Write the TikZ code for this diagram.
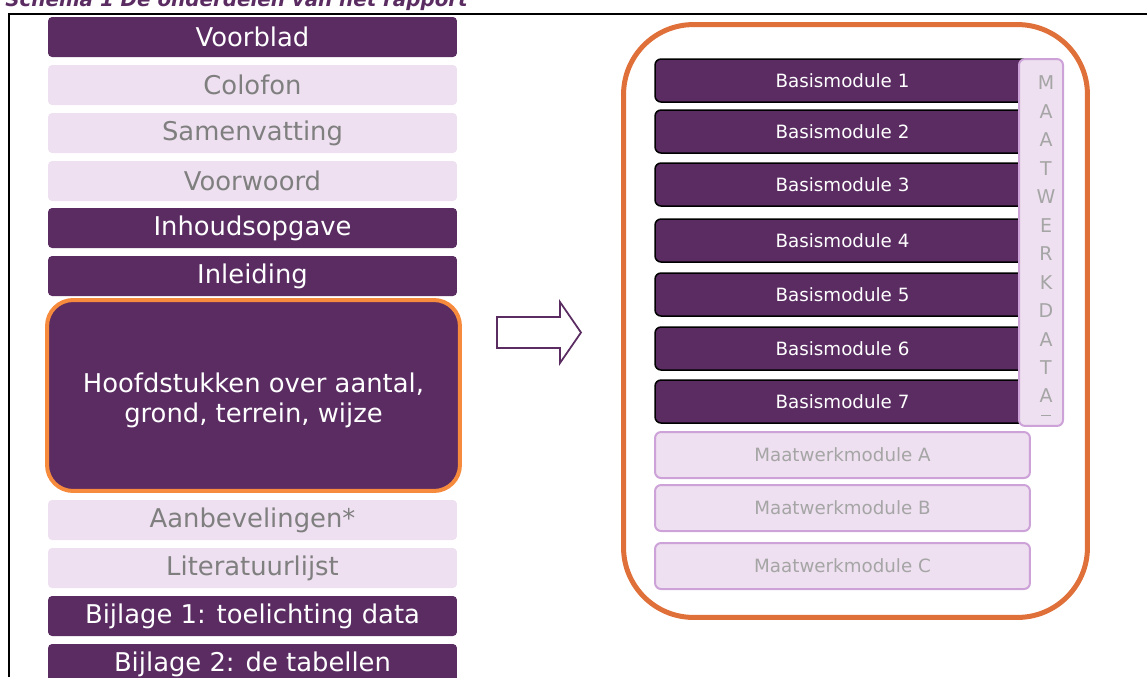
\documentclass[tikz,border=0pt]{standalone}
\usepackage{fontspec}
\setmainfont{DejaVu Sans}
\definecolor{paars}{HTML}{5A2C62}
\definecolor{lila}{HTML}{EEE0F0}
\definecolor{lilarand}{HTML}{CDA2D8}
\definecolor{oranjelicht}{HTML}{F68B3D}
\definecolor{oranje}{HTML}{E0703A}
\definecolor{grijs}{HTML}{7F7F7F}
\definecolor{lichtgrijs}{HTML}{A5A5A5}

\begin{document}
\begin{tikzpicture}[x=0.02cm, y=-0.02cm,
		donker/.style={fill=paars, text=white, rounded corners=0.08cm, minimum width=8.18cm, minimum height=0.8cm, inner sep=0pt, font=\fontsize{14.7}{17}\selectfont},
		licht/.style={donker, fill=lila, text=grijs},
		basis/.style={draw=black, line width=0.03cm, fill=paars, text=white, rounded corners=0.12cm, minimum width=7.5cm, minimum height=0.86cm, inner sep=0pt, font=\fontsize{10.4}{12}\selectfont},
		maatwerk/.style={basis, draw=lilarand, fill=lila, text=lichtgrijs, line width=0.04cm, minimum height=0.92cm}]
			%%%%% START %%%%%
			
			\useasboundingbox (0, 0) rectangle (1147, 677);
			\clip (0, 0) rectangle (1147, 677);
			
			\node[anchor=base west, inner sep=0pt, text=paars, font=\fontsize{11.3}{13}\selectfont\bfseries\itshape] (titel) at (5, 6) {Schema 1 De onderdelen van het rapport};
			\draw[line width=0.04cm] (9, 677) -- (9, 14) -- (1147, 14);
			
			% linker kolom
			\node[donker] (voorblad) at (252.5, 37) {Voorblad};
			\node[licht] (colofon) at (252.5, 85) {Colofon};
			\node[licht] (samenvatting) at (252.5, 133) {Samenvatting};
			\node[licht] (voorwoord) at (252.5, 181) {Voorwoord};
			\node[donker] (inhoud) at (252.5, 228) {Inhoudsopgave};
			\node[donker] (inleiding) at (252.5, 276) {Inleiding};
			\node[donker, draw=oranjelicht, line width=0.08cm, rounded corners=0.52cm, minimum width=8.26cm, minimum height=3.82cm] (hoofdstukken) at (253.5, 395.5) {};
			\node[text=white, align=center, inner sep=0pt, font=\fontsize{14.7}{17}\selectfont] (hoofdtekst) at (253.5, 400) {Hoofdstukken over aantal,\\grond, terrein, wijze};
			\node[licht] (aanbevelingen) at (252.5, 520) {Aanbevelingen*};
			\node[licht] (literatuur) at (252.5, 568) {Literatuurlijst};
			\node[donker] (bijlage1) at (252.5, 616) {Bijlage 1: toelichting data};
			\node[donker] (bijlage2) at (252.5, 664) {Bijlage 2: de tabellen};
			
			\draw[paars, line width=0.035cm, fill=white] (497, 317) -- (560, 317) -- (560, 302) -- (581, 332.5) -- (560, 363) -- (560, 348) -- (497, 348) -- cycle;
			
			% rechter kolom
			\node[draw=oranje, line width=0.1cm, rounded corners=1.4cm, minimum width=9.28cm, minimum height=11.86cm] (modules) at (855.5, 321) {};
			
			\node[basis] (basis1) at (842.5, 80.5) {Basismodule 1};
			\node[basis] (basis2) at (842.5, 131.5) {Basismodule 2};
			\node[basis] (basis3) at (842.5, 184.5) {Basismodule 3};
			\node[basis] (basis4) at (842.5, 240.5) {Basismodule 4};
			\node[basis] (basis5) at (842.5, 294.5) {Basismodule 5};
			\node[basis] (basis6) at (842.5, 348.5) {Basismodule 6};
			\node[basis] (basis7) at (842.5, 401.5) {Basismodule 7};
			
			\node[maatwerk] (maatA) at (842.5, 455) {Maatwerkmodule A};
			\node[maatwerk] (maatB) at (842.5, 508) {Maatwerkmodule B};
			\node[maatwerk] (maatC) at (842.5, 566) {Maatwerkmodule C};
			
			\node[maatwerk, minimum width=0.88cm, minimum height=7.34cm] (maatdata) at (1041, 242.5) {};
			\node[text=lichtgrijs, align=center, inner sep=0pt, font=\fontsize{10.8}{16.2}\selectfont] (maatletters) at (1046, 239.5) {M\\A\\A\\T\\W\\E\\R\\K\\D\\A\\T\\A};
			\draw[lichtgrijs, line width=0.02cm] (1041, 415) -- (1051, 415);
			
			%%%%% END %%%%%
		\end{tikzpicture}
\end{document}
